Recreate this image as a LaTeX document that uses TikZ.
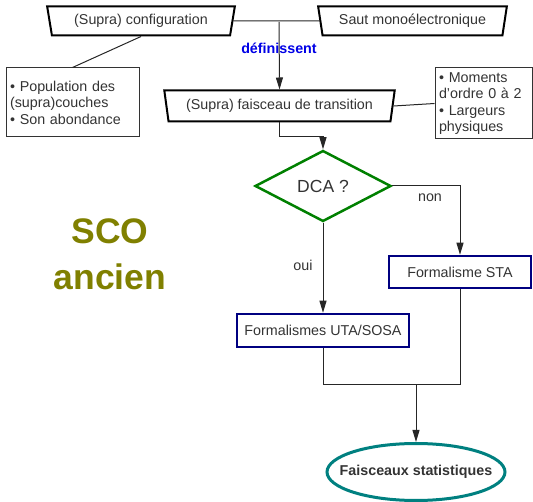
\documentclass[tikz,border=0pt]{standalone}
\usepackage{fontspec}
\setmainfont{Liberation Sans}
\usetikzlibrary{shapes.geometric,arrows.meta}
\definecolor{boxnavy}{RGB}{0,0,128}
\definecolor{dcagreen}{RGB}{0,128,0}
\definecolor{stateal}{RGB}{0,128,128}
\definecolor{scoolive}{RGB}{128,128,0}
\definecolor{txtgray}{RGB}{51,51,51}
\definecolor{defblue}{RGB}{0,0,230}
\tikzset{
  trap/.style={trapezium, trapezium angle=75, shape border rotate=180,
    trapezium stretches=true, draw, line width=2pt, inner sep=0pt, text=txtgray},
  notebox/.style={draw=black!80, line width=1pt, inner sep=4pt, align=left,
    text=txtgray, font=\fontsize{14.3}{16.5}\selectfont},
  formbox/.style={draw=boxnavy, line width=2.5pt, inner sep=0pt, text=txtgray},
  conn/.style={draw=black!85, line width=1pt},
  arr/.style={conn, -{Triangle[length=12pt,width=7pt]}}
}
\begin{document}
\begin{tikzpicture}[x=1pt,y=-1pt,font=\fontsize{14.3}{16.5}\selectfont]
    \useasboundingbox (0,0) rectangle (533,502);
    \node[trap, minimum width=188, minimum height=29] (conf) at (141,21) {(Supra) configuration};
    \node[trap, minimum width=189, minimum height=29] (saut) at (412.5,21) {Saut monoélectronique};
    \node[trap, minimum width=231, minimum height=31] (faisc) at (279.5,106) {(Supra) faisceau de transition};
    \node[notebox, minimum width=133, minimum height=69, text width=125] (pop) at (72.5,102.5)
        {• Population des\\(supra)couches\\• Son abondance};
    \node[notebox, minimum width=97, minimum height=71, text width=89] (mom) at (483.5,103.5)
        {• Moments\\d'ordre 0 à 2\\• Largeurs\\physiques};
    \node[text=defblue, font=\fontsize{14.3}{16.5}\selectfont\bfseries] (defin) at (279,48) {définissent};
    \node[diamond, draw=dcagreen, line width=2.5pt, inner sep=0pt, minimum width=136, minimum height=71,
        text=txtgray, font=\fontsize{17.5}{20}\selectfont] (dca) at (323,186) {DCA ?};
    \node[formbox, minimum width=142, minimum height=32] (sta) at (460,272) {Formalisme STA};
    \node[formbox, minimum width=172, minimum height=33] (uta) at (323,330.5) {Formalismes UTA/SOSA};
    \node[ellipse, draw=stateal, line width=3pt, inner xsep=-14pt, inner ysep=6pt, minimum width=178,
        minimum height=57, text=txtgray, font=\fontsize{14.3}{16.5}\selectfont\bfseries] (fstat) at (416,472)
        {Faisceaux statistiques};
    \node[text=txtgray] (non) at (430,198) {non};
    \node[text=txtgray] (oui) at (303,265) {oui};
    \node[text=scoolive, align=center, font=\fontsize{35.5}{46}\selectfont\bfseries] (sco) at (110,254) {SCO\\ancien};
    \coordinate (join) at (279,22);
    \coordinate (merge) at (416,385);
    \draw[conn] (conf.east) -- (saut.west);
    \draw[arr] (join) -- (faisc.north);
    \draw[conn] (conf.south) -- (pop.north);
    \draw[conn] (faisc.east) -- (mom.west);
    \draw[arr] (faisc.south) -- ++(0,14) -| (dca.north);
    \draw[arr] (dca.east) -| (sta.north);
    \draw[arr] (dca.south) -- (uta.north);
    \draw[conn] (uta.south) |- (sta.south |- merge) -- (sta.south);
    \draw[arr] (merge) -- (fstat.north);
\end{tikzpicture}
\end{document}
